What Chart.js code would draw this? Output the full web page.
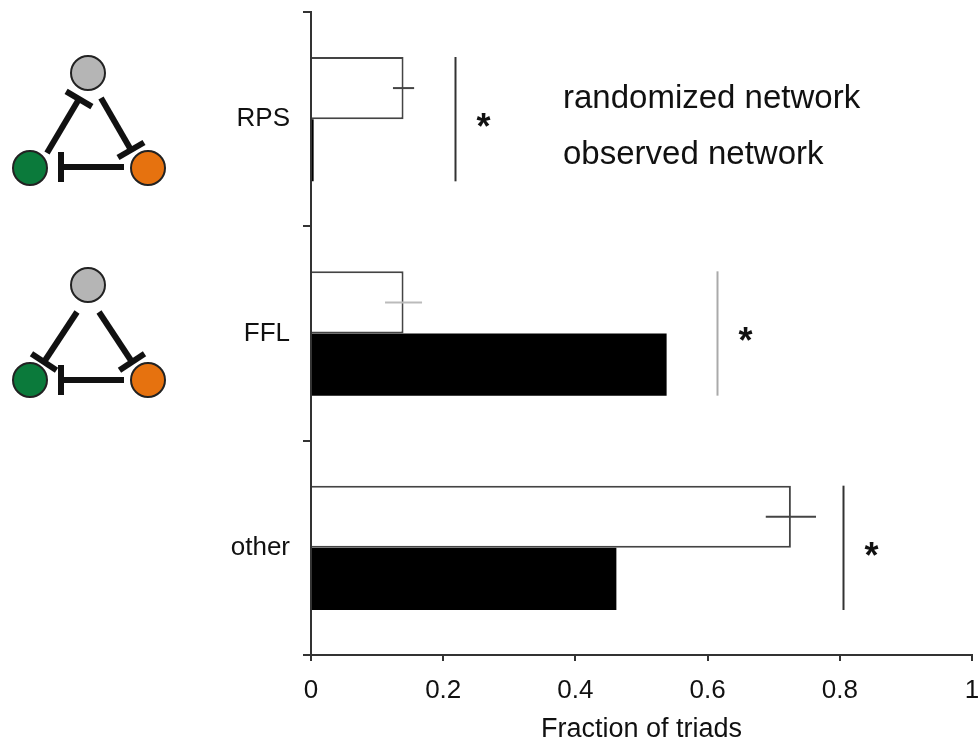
<!DOCTYPE html>
<html>
<head>
<meta charset="utf-8">
<script src="https://cdn.jsdelivr.net/npm/chart.js@4/dist/chart.umd.min.js"></script>
<style>
  html, body { margin: 0; padding: 0; background: #fff; }
  #wrap { position: relative; width: 980px; height: 746px; }
</style>
</head>
<body>
<div id="wrap"><canvas id="myCanvas" width="980" height="746"></canvas></div>
<script>
// values
var categories = ['RPS', 'FFL', 'other'];
var randomized = [0.14, 0.14, 0.726];
var randomizedErr = [0.016, 0.028, 0.038];
var observed = [0.004, 0.538, 0.462];
var sigLine = [0.218, 0.614, 0.805];
var xTicks = [0, 0.2, 0.4, 0.6, 0.8, 1];
var xTickLabels = ['0', '0.2', '0.4', '0.6', '0.8', '1'];

var FONT = "'Liberation Sans', Arial, Helvetica, sans-serif";
var errColors = ['#444', '#bbb', '#444'];
var sigColors = ['#333', '#aaa', '#333'];

// error bars, significance lines, stars and the text legend
var extras = {
    id: 'extras',
    afterDatasetsDraw: function (chart) {
        var ctx = chart.ctx;
        var xs = chart.scales.x;
        var m0 = chart.getDatasetMeta(0);
        var m1 = chart.getDatasetMeta(1);
        ctx.save();
        for (var i = 0; i < categories.length; i++) {
            var b0 = m0.data[i], b1 = m1.data[i];
            // horizontal error whisker
            ctx.strokeStyle = errColors[i];
            ctx.lineWidth = 2;
            ctx.beginPath();
            ctx.moveTo(xs.getPixelForValue(randomized[i] - randomizedErr[i]), b0.y);
            ctx.lineTo(xs.getPixelForValue(randomized[i] + randomizedErr[i]), b0.y);
            ctx.stroke();
            // significance bracket
            var sx = Math.round(xs.getPixelForValue(sigLine[i])) + 0.5;
            ctx.strokeStyle = sigColors[i];
            ctx.beginPath();
            ctx.moveTo(sx, b0.y - b0.height / 2);
            ctx.lineTo(sx, b1.y + b1.height / 2);
            ctx.stroke();
            ctx.fillStyle = '#111';
            ctx.font = 'bold 36px ' + FONT;
            ctx.textAlign = 'center';
            ctx.textBaseline = 'middle';
            ctx.fillText('*', sx + 28, (b0.y + b1.y) / 2 + 10);
        }
        // legend text only
        ctx.fillStyle = '#111';
        ctx.font = '33px ' + FONT;
        ctx.textAlign = 'left';
        ctx.textBaseline = 'middle';
        ctx.fillText(chart.data.datasets[0].label, 563, 99);
        ctx.fillText(chart.data.datasets[1].label, 563, 155);
        ctx.restore();
    },
    afterDraw: function (chart) {
        var ctx = chart.ctx;
        // triad motif pictograms beside the categories
        drawTriad(ctx, 0, 0, 'rps');
        drawTriad(ctx, 0, 212, 'ffl');
    }
};

function inhib(ctx, x1, y1, x2, y2) {
    // line from (x1,y1) ending in a T bar at (x2,y2)
    var a = Math.atan2(y2 - y1, x2 - x1);
    ctx.beginPath();
    ctx.moveTo(x1, y1);
    ctx.lineTo(x2, y2);
    ctx.stroke();
    var px = -Math.sin(a) * 15, py = Math.cos(a) * 15;
    ctx.beginPath();
    ctx.moveTo(x2 - px, y2 - py);
    ctx.lineTo(x2 + px, y2 + py);
    ctx.stroke();
}

function node(ctx, x, y, col) {
    ctx.beginPath();
    ctx.arc(x, y, 17, 0, Math.PI * 2);
    ctx.fillStyle = col;
    ctx.fill();
    ctx.lineWidth = 2;
    ctx.strokeStyle = '#222';
    ctx.stroke();
}

function drawTriad(ctx, ox, oy, kind) {
    ctx.save();
    ctx.translate(ox, oy);
    ctx.strokeStyle = '#111';
    ctx.lineWidth = 6;
    ctx.lineCap = 'butt';
    if (kind === 'rps') {
        inhib(ctx, 47, 153, 79, 99);
        inhib(ctx, 101, 98, 131, 150);
        inhib(ctx, 124, 167, 61, 167);
    } else {
        inhib(ctx, 77, 100, 44, 150);
        inhib(ctx, 99, 100, 132, 150);
        inhib(ctx, 124, 168, 61, 168);
    }
    node(ctx, 88, 73, '#b5b5b5');
    node(ctx, 30, 168, '#0b7a3b');
    node(ctx, 148, 168, '#e6720f');
    ctx.restore();
}

var c = document.getElementById('myCanvas');
var ctx = c.getContext('2d');
var myChart = new Chart(ctx, {
    type: 'bar',
    data: {
        labels: categories,
        datasets: [{
            label: 'randomized network',
            data: randomized,
            backgroundColor: '#ffffff',
            borderColor: '#444',
            borderWidth: 2
        }, {
            label: 'observed network',
            data: observed,
            backgroundColor: '#000000',
            borderWidth: 0
        }]
    },
    options: {
        indexAxis: 'y',
        responsive: false,
        animation: false,
        categoryPercentage: 0.58,
        barPercentage: 1.0,
        layout: { padding: 0 },
        plugins: {
            legend: { display: false },
            tooltip: { enabled: false }
        },
        scales: {
            x: {
                type: 'linear',
                min: 0,
                max: 1,
                afterBuildTicks: function (scale) {
                    scale.ticks = xTicks.map(function (v) { return { value: v }; });
                },
                afterFit: function (scale) {
                    scale.height = 91;
                    scale.paddingLeft = 0;
                    scale.paddingRight = 8;
                },
                grid: { drawOnChartArea: false, drawTicks: true, tickLength: 6, color: '#333', lineWidth: 2 },
                border: { color: '#333', width: 2 },
                ticks: {
                    color: '#111', font: { family: FONT, size: 26 }, padding: 14, maxRotation: 0,
                    callback: function (v, i) { return xTickLabels[i]; }
                },
                title: { display: true, text: 'Fraction of triads', color: '#111', font: { family: FONT, size: 27 }, padding: { top: 2, bottom: 0 } }
            },
            y: {
                afterFit: function (scale) {
                    scale.width = 311;
                    scale.paddingTop = 12;
                    scale.paddingBottom = 0;
                },
                grid: { drawOnChartArea: false, drawTicks: true, tickLength: 8, offset: true, color: '#333', lineWidth: 2 },
                border: { color: '#333', width: 2 },
                ticks: { color: '#111', font: { family: FONT, size: 26 }, padding: 13 }
            }
        }
    },
    plugins: [extras]
});
</script>
</body>
</html>
